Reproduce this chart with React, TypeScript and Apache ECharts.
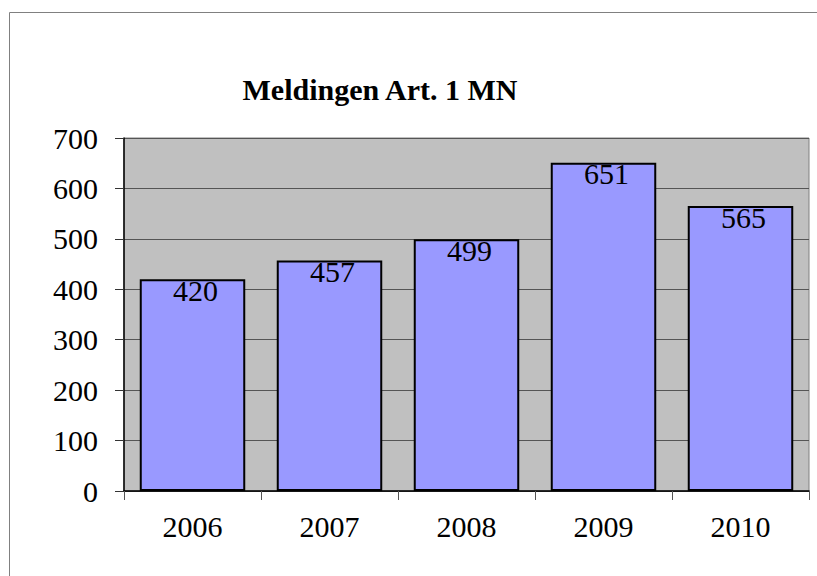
import React, { useEffect, useRef } from "react";
import * as echarts from "echarts";

const title = "Meldingen Art. 1 MN";
const years = ["2006", "2007", "2008", "2009", "2010"];
const meldingen = [420, 457, 499, 651, 565];
const yTicks = { min: 0, max: 700, interval: 100 };

const FONT = "Liberation Serif";

export default function App() {
  const ref = useRef<HTMLDivElement>(null);
  useEffect(() => {
    if (!ref.current) return;
    const chart = echarts.init(ref.current, null, { renderer: "svg" });
    chart.setOption({
      animation: false,
      backgroundColor: "#ffffff",
      textStyle: { fontFamily: FONT },
      title: {
        text: title,
        left: 375,
        top: 69,
        textAlign: "center",
        textStyle: { fontFamily: FONT, fontSize: 30, fontWeight: "bold", color: "#000" },
      },
      graphic: [
        {
          type: "rect",
          shape: { x: 9.5, y: 12.5, width: 830, height: 600 },
          style: { fill: "none", stroke: "#808080", lineWidth: 1 },
          silent: true,
          z: -10,
        },
      ],
      grid: {
        left: 124,
        top: 138,
        width: 685,
        height: 353,
        show: true,
        backgroundColor: "#C0C0C0",
        borderColor: "#808080",
        borderWidth: 1,
      },
      xAxis: {
        type: "category",
        data: years,
        axisLine: { lineStyle: { color: "#000", width: 1.5 } },
        axisTick: { show: true, length: 9, lineStyle: { color: "#555" } },
        axisLabel: { margin: 20, fontFamily: FONT, fontSize: 30, color: "#000" },
      },
      yAxis: {
        type: "value",
        min: yTicks.min,
        max: yTicks.max,
        interval: yTicks.interval,
        axisLine: { show: true, lineStyle: { color: "#000", width: 1.5 } },
        axisTick: { show: true, length: 9, lineStyle: { color: "#333" } },
        axisLabel: { margin: 26, fontFamily: FONT, fontSize: 30, color: "#000" },
        splitLine: { show: true, lineStyle: { color: "#555", width: 1 } },
      },
      series: [
        {
          type: "bar",
          data: meldingen,
          barCategoryGap: "23%",
          itemStyle: { color: "#9999FF", borderColor: "#000", borderWidth: 2 },
          label: {
            show: true,
            position: "insideTop",
            distance: -4,
            offset: [3, 0],
            fontFamily: FONT,
            fontSize: 30,
            color: "#000",
          },
        },
      ],
    });
    return () => chart.dispose();
  }, []);
  return (
    <div
      ref={ref}
      style={{ position: "fixed", left: 0, top: 0, width: 817, height: 576 }}
    />
  );
}
